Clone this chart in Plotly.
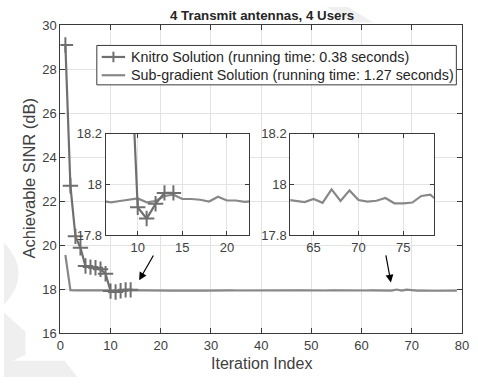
import plotly.graph_objects as go

# Iteration indices and achieved SINR (dB) per algorithm
knitro_iter = list(range(1, 15))
knitro_sinr = [29.1, 22.7, 20.4, 19.88, 19.05, 19.0, 18.97, 18.9, 18.7,
               17.91, 17.866, 17.924, 17.967, 17.967]

subgrad_iter = list(range(1, 80))
subgrad_sinr = [
    19.55, 17.95, 17.94, 17.935, 17.94, 17.935, 17.93, 17.935, 17.94, 17.945,
    17.93, 17.935, 17.955, 17.96, 17.943, 17.943, 17.94, 17.933, 17.952, 17.937,
    17.937, 17.932, 17.935, 17.94, 17.938, 17.934, 17.942, 17.936, 17.93, 17.938,
    17.944, 17.936, 17.932, 17.94, 17.937, 17.935, 17.945, 17.938, 17.933, 17.936,
    17.94, 17.934, 17.937, 17.943, 17.936, 17.931, 17.938, 17.942, 17.935, 17.937,
    17.94, 17.933, 17.936, 17.944, 17.938, 17.932, 17.937, 17.941, 17.935, 17.938,
    17.936, 17.94, 17.936, 17.931, 17.943, 17.928, 17.981, 17.935, 17.977, 17.939,
    17.933, 17.936, 17.947, 17.926, 17.926, 17.929, 17.955, 17.96, 17.93,
]

knitro_name = "Knitro Solution (running time: 0.38 seconds)"
subgrad_name = "Sub-gradient Solution (running time: 1.27 seconds)"
title_text = "4 Transmit antennas, 4 Users"
x_title = "Iteration Index"
y_title = "Achievable SINR (dB)"

main_xticks = [0, 10, 20, 30, 40, 50, 60, 70, 80]
main_yticks = [16, 18, 20, 22, 24, 26, 28, 30]
inset1_xticks = [10, 15, 20]
inset2_xticks = [65, 70, 75]
inset_yticks = [17.8, 18.0, 18.2]
inset_ytext = ["17.8", "18", "18.2"]

W, H = 478, 385
KNITRO_COLOR = "#6f6f6f"
SUB_COLOR = "#888888"
AXIS_COLOR = "#3a3a3a"
GRID_COLOR = "#e3e3e3"
TEXT_COLOR = "#262626"
TICK_COLOR = "#404040"
FONT = "Liberation Sans, Arial, sans-serif"
LINE_W = 2.2


def px(x):
    return x / W


def py(y):
    return 1 - y / H


fig = go.Figure()

# main axes plus two zoomed views sharing the same series
subplots = [("x", "y"), ("x2", "y2"), ("x3", "y3")]
for xa, ya in subplots:
    fig.add_trace(go.Scatter(
        x=subgrad_iter, y=subgrad_sinr, mode="lines", name=subgrad_name,
        line=dict(color=SUB_COLOR, width=LINE_W), xaxis=xa, yaxis=ya,
        showlegend=False, cliponaxis=True))
    fig.add_trace(go.Scatter(
        x=knitro_iter, y=knitro_sinr, mode="lines+markers", name=knitro_name,
        line=dict(color=KNITRO_COLOR, width=LINE_W),
        marker=dict(symbol="cross-thin", size=11,
                    line=dict(color=KNITRO_COLOR, width=2)),
        xaxis=xa, yaxis=ya, showlegend=False, cliponaxis=True))

axis_common = dict(
    showline=True, linecolor=AXIS_COLOR, linewidth=1, mirror="ticks",
    ticks="inside", ticklen=5, tickcolor=AXIS_COLOR, showgrid=True,
    gridcolor=GRID_COLOR, gridwidth=1, zeroline=False,
    tickfont=dict(family=FONT, size=13, color=TICK_COLOR),
)

main_x = [px(57.7), px(468.7)]
main_y = [py(339.3), py(19)]
in1_x = [px(104), px(251)]
in2_x = [px(293), px(440)]
in_y = [py(237.5), py(132)]

fig.update_layout(
    width=W, height=H,
    margin=dict(l=0, r=0, t=0, b=0),
    paper_bgcolor="white",
    plot_bgcolor="white",
    showlegend=False,
    font=dict(family=FONT, color=TEXT_COLOR),
    xaxis=dict(axis_common, domain=main_x, range=[0, 80], tickvals=main_xticks,
               anchor="y"),
    yaxis=dict(axis_common, domain=main_y, range=[16, 30], tickvals=main_yticks,
               anchor="x"),
    xaxis2=dict(axis_common, domain=in1_x, range=[6.4, 22.5],
                tickvals=inset1_xticks, anchor="y2", ticklen=4),
    yaxis2=dict(axis_common, domain=in_y, range=[17.8, 18.2],
                tickvals=inset_yticks, ticktext=inset_ytext, anchor="x2",
                ticklen=4),
    xaxis3=dict(axis_common, domain=in2_x, range=[62.4, 78.4],
                tickvals=inset2_xticks, anchor="y3", ticklen=4),
    yaxis3=dict(axis_common, domain=in_y, range=[17.8, 18.2],
                tickvals=inset_yticks, ticktext=inset_ytext, anchor="x3",
                ticklen=4),
)


def pline(x0, y0, x1, y1, color, width):
    fig.add_shape(type="line", xref="paper", yref="paper",
                  x0=px(x0), y0=py(y0), x1=px(x1), y1=py(y1),
                  line=dict(color=color, width=width), layer="above")


# legend box with line samples and labels
fig.add_shape(type="rect", xref="paper", yref="paper",
              x0=px(95), y0=py(81), x1=px(463), y1=py(40),
              line=dict(color=AXIS_COLOR, width=1), fillcolor="white",
              layer="above")
legend_rows = [(52, knitro_name, KNITRO_COLOR, True),
               (71, subgrad_name, SUB_COLOR, False)]
for row_y, label, color, with_marker in legend_rows:
    pline(100, row_y, 124, row_y, color, LINE_W)
    if with_marker:
        pline(112, row_y - 5.5, 112, row_y + 5.5, color, 2)
        pline(106.5, row_y, 117.5, row_y, color, 2)
    fig.add_annotation(text=label, x=px(128), y=py(row_y), xref="paper",
                       yref="paper", showarrow=False, xanchor="left",
                       yanchor="middle",
                       font=dict(family=FONT, size=14.3, color=TEXT_COLOR))

# light page decoration in the margins
deco = [
    "M 0 245 Q 30 277 0 310 Z",
    "M 0 318 L 22 338 L 22 362 L 0 372 Z",
    "M 0 368 L 62 368 L 75 385 L 0 385 Z",
    "M 330 0 L 352 0 L 378 16 L 356 16 Z",
]
for d in deco:
    toks = d.split()
    out = []
    j = 0
    while j < len(toks):
        t = toks[j]
        if t in ("M", "L", "Q", "Z"):
            out.append(t)
            j += 1
        else:
            xv = float(toks[j]); yv = float(toks[j + 1])
            out.append(f"{px(xv):.4f},{py(yv):.4f}")
            j += 2
    fig.add_shape(type="path", path=" ".join(out), xref="paper", yref="paper",
                  fillcolor="#efefef", line=dict(width=0), layer="below")

# title and axis titles
fig.add_annotation(text=f"<b>{title_text}</b>", x=px(264), y=py(9),
                   xref="paper", yref="paper", showarrow=False,
                   xanchor="center", yanchor="middle",
                   font=dict(family=FONT, size=13.3, color=TEXT_COLOR))
fig.add_annotation(text=x_title, x=px(264), y=py(371), xref="paper",
                   yref="paper", showarrow=False,
                   xanchor="center", yanchor="middle",
                   font=dict(family=FONT, size=16, color=TICK_COLOR))
fig.add_annotation(text=y_title, x=px(26), y=py(178), xref="paper",
                   yref="paper", showarrow=False, textangle=-90,
                   xanchor="center", yanchor="middle",
                   font=dict(family=FONT, size=16.5, color=TICK_COLOR))

# arrows pointing from the zoomed views to the curve
for (tx, ty, hx, hy) in [(18.7, 19.6, 15.7, 18.4), (64.8, 19.6, 65.85, 18.3)]:
    fig.add_annotation(x=hx, y=hy, ax=tx, ay=ty, xref="x", yref="y",
                       axref="x", ayref="y", text="", showarrow=True,
                       arrowhead=2, arrowsize=1.3, arrowwidth=1.2,
                       arrowcolor="black")

fig.write_html("out.html")
